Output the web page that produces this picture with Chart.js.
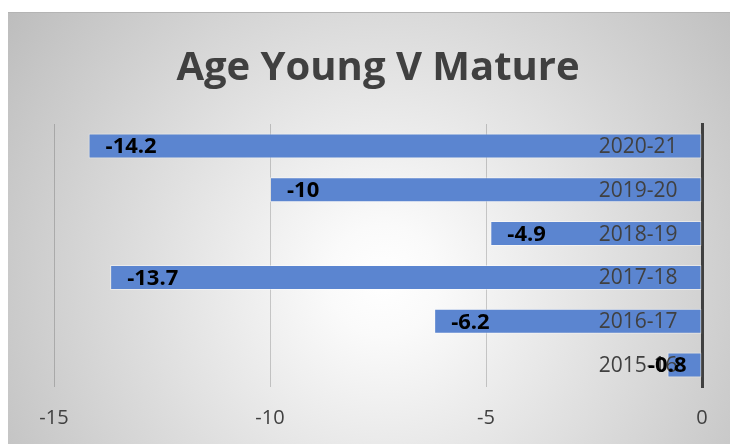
<!DOCTYPE html>
<html>
<head>
<meta charset="utf-8">
<title>Age Young V Mature</title>
<script src="https://cdn.jsdelivr.net/npm/chart.js@4"></script>
<style>
    body { margin: 0; background: #ffffff; }
    #panel {
        position: absolute;
        left: 8px; top: 12px;
        width: 722px; height: 432px;
        border-top: 1px solid #b4b4b4;
        background: radial-gradient(circle farthest-corner at 52% 62%, #ffffff 0%, #fafafa 12%, #bdbdbd 100%);
    }
    canvas { display: block; }
</style>
</head>
<body>
<div id="panel"><canvas id="canvas1" width="722" height="431"></canvas></div>
<script>
var seasons = ['2020-21', '2019-20', '2018-19', '2017-18', '2016-17', '2015-16'];
var ageDiff = [-14.2, -10, -4.9, -13.7, -6.2, -0.8];
var xTicks = [-15, -10, -5, 0];

// season names sit inside the bars next to the zero line,
// value labels just inside the far end of each bar
var barLabels = {
    id: 'barLabels',
    afterDraw: function(chart) {
        var ctx = chart.ctx;
        var meta = chart.getDatasetMeta(0);
        ctx.save();
        ctx.textBaseline = 'middle';

        ctx.font = '21px "Open Sans"';
        ctx.fillStyle = '#404040';
        ctx.textAlign = 'right';
        meta.data.forEach(function(bar, i) {
            ctx.fillText(seasons[i], bar.base - 24, bar.y + 1);
        });

        ctx.font = 'bold 22px "Open Sans"';
        ctx.fillStyle = '#000000';
        ctx.textAlign = 'left';
        meta.data.forEach(function(bar, i) {
            var txt = String(ageDiff[i]);
            var w = ctx.measureText(txt).width;
            var left = Math.min(bar.x + 17, bar.base - 15 - w);
            ctx.fillText(txt, left, bar.y + 1);
        });
        ctx.restore();
    }
};

var ctx = document.getElementById('canvas1').getContext('2d');
window.myBar = new Chart(ctx, {
    type: 'bar',
    data: {
        labels: seasons,
        datasets: [{
            label: 'Age Young V Mature',
            data: ageDiff,
            backgroundColor: '#5b85d0',
            borderColor: 'rgba(255,255,255,0.45)',
            borderWidth: 1,
            borderSkipped: false,
            barPercentage: 0.57,
            categoryPercentage: 1
        }]
    },
    options: {
        indexAxis: 'y',
        responsive: false,
        animation: false,
        devicePixelRatio: 1,
        layout: { padding: { left: 46, right: 28, top: 0, bottom: 0 } },
        plugins: {
            legend: { display: false },
            tooltip: { enabled: false },
            title: {
                display: true,
                text: 'Age Young V Mature',
                color: '#404040',
                font: { family: '"Open Sans"', size: 40, weight: 'bold' },
                padding: { top: 32, bottom: 31 }
            }
        },
        scales: {
            x: {
                min: -15,
                max: 0,
                afterBuildTicks: function(scale) {
                    scale.ticks = xTicks.map(function(v) { return { value: v }; });
                },
                afterFit: function(scale) {
                    scale.height = 57;
                },
                border: { display: false },
                grid: {
                    drawTicks: false,
                    lineWidth: 1,
                    color: function(c) {
                        return c.tick && c.tick.value === 0 ? 'rgba(0,0,0,0)' : 'rgba(0,0,0,0.18)';
                    }
                },
                ticks: {
                    padding: 19,
                    color: '#404040',
                    font: { family: '"Open Sans"', size: 20 }
                }
            },
            y: {
                position: 'right',
                border: { display: true, color: '#404040', width: 3 },
                grid: { display: false, drawTicks: false },
                ticks: { display: false }
            }
        }
    },
    plugins: [barLabels]
});
</script>
</body>
</html>
